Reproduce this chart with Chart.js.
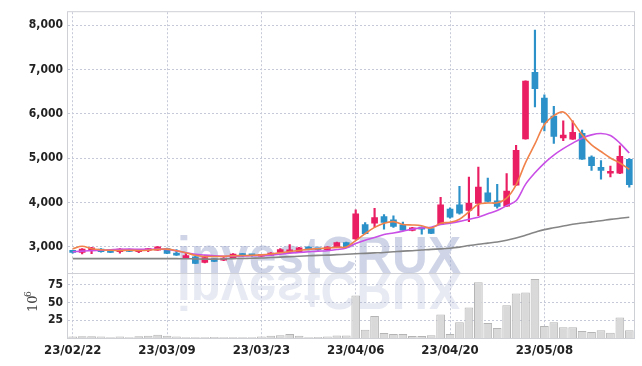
<!DOCTYPE html>
<html>
<head>
<meta charset="utf-8">
<script src="https://cdn.jsdelivr.net/npm/chart.js@4.4.0/dist/chart.umd.min.js"></script>
<style>
html, body { margin: 0; padding: 0; background: #fff; }
</style>
</head>
<body>
<canvas id="chart" width="642" height="366"></canvas>
<script>
// Trading days
const dates = ['23/02/22','23/02/23','23/02/24','23/02/27','23/02/28','23/03/02','23/03/03','23/03/06','23/03/07','23/03/08',
  '23/03/09','23/03/10','23/03/13','23/03/14','23/03/15','23/03/16','23/03/17','23/03/20','23/03/21','23/03/22',
  '23/03/23','23/03/24','23/03/27','23/03/28','23/03/29','23/03/30','23/03/31','23/04/03','23/04/04','23/04/05',
  '23/04/06','23/04/07','23/04/10','23/04/11','23/04/12','23/04/13','23/04/14','23/04/17','23/04/18','23/04/19',
  '23/04/20','23/04/21','23/04/24','23/04/25','23/04/26','23/04/27','23/04/28','23/05/02','23/05/03','23/05/04',
  '23/05/08','23/05/09','23/05/10','23/05/11','23/05/12','23/05/15','23/05/16','23/05/17','23/05/18','23/05/19'];

// OHLC
const opens  = [2905,2875,2920,2950,2930,2890,2940,2890,2920,2925,2965,2835,2760,2777,2650,2735,2700,2755,2815,2815,
  2790,2815,2875,2875,2890,2995,2950,2935,2995,3100,3180,3505,3535,3685,3610,3500,3370,3445,3415,3520,
  3855,3950,3820,3980,4220,4040,3920,4390,5435,6935,6355,5950,5455,5430,5560,5025,4795,4660,4660,4975];
const highs  = [2920,2960,2990,2960,2935,2960,2950,2940,2970,3010,2975,2940,2880,2790,2770,2740,2760,2850,2850,2830,
  2820,2870,2960,3050,2990,3000,2960,3005,3110,3110,3835,3550,3870,3730,3700,3560,3440,3450,3420,4115,
  3880,4365,4575,4800,4550,4410,4650,5290,6745,7885,6430,6170,5840,5840,5635,5050,4945,4820,5280,4990];
const lows   = [2860,2840,2850,2880,2870,2860,2890,2870,2890,2920,2845,2810,2750,2620,2640,2665,2690,2750,2780,2790,
  2785,2810,2870,2870,2885,2930,2925,2930,2990,2990,3170,3290,3445,3400,3440,3370,3360,3285,3300,3500,
  3650,3740,3570,3705,4010,3875,3910,4380,5430,6155,5615,5330,5395,5420,4970,4725,4525,4575,4650,4345];
const closes = [2875,2950,2980,2890,2875,2950,2900,2930,2930,3000,2852,2815,2780,2630,2760,2675,2750,2838,2805,2800,
  2810,2860,2940,2935,2980,2935,2935,2995,3100,3000,3745,3300,3660,3550,3460,3380,3430,3400,3305,3950,
  3670,3760,3990,4350,4025,3915,4260,5175,6735,6565,5805,5490,5520,5580,4980,4830,4725,4700,5040,4405];

// Moving averages
const maShort = [2960,3015,2960,2935,2925,2920,2925,2920,2925,2945,2950,2915,2870,2810,2785,2785,2790,2800,2805,2810,
  2820,2840,2870,2895,2920,2945,2960,2975,2990,3000,3140,3300,3440,3535,3570,3505,3495,3475,3425,3535,
  3555,3625,3790,3960,3990,3995,4100,4400,4900,5320,5760,5960,6040,5820,5525,5300,5150,5005,4890,4750];
const maMid   = [2890,2905,2915,2925,2935,2945,2950,2945,2945,2950,2945,2910,2870,2835,2815,2800,2790,2790,2795,2800,
  2805,2815,2835,2860,2875,2890,2905,2915,2940,2975,3075,3150,3210,3280,3315,3355,3400,3430,3445,3505,
  3535,3575,3625,3670,3745,3820,3930,4040,4410,4670,4890,5070,5215,5340,5450,5525,5555,5510,5340,5115];
const maLong  = [2735,2735,2735,2735,2735,2735,2735,2735,2735,2735,2735,2735,2733,2730,2725,2725,2730,2735,2740,2745,
  2750,2760,2770,2780,2790,2800,2810,2815,2825,2835,2845,2855,2865,2875,2890,2905,2915,2930,2945,2955,
  2970,2995,3030,3060,3085,3110,3150,3200,3265,3330,3390,3430,3470,3510,3540,3565,3590,3620,3645,3668];

// Volume, millions
const volumes = [2,2.5,2.5,2,1,2,1,2.5,3,4.5,3,2,1,1,1,1.5,1,1,1,1,
  2,3,4,5.5,3,1,1.5,2,3.5,3.6,60,11.5,31,7,5.5,5.5,2.7,2.7,4,33,
  5.5,22,43,78.6,21,14,46,62.5,64,83,17,22,15,15,9.7,8.3,11,7.4,29,11];

const priceTicks = [3000, 4000, 5000, 6000, 7000, 8000];
const volumeTicks = [25, 50, 75];

const UP = '#e91e63';
const DOWN = '#2b91c8';
const GRID = '#c6c9d8';
const FRAME = '#cfd0d6';
const NARROW = "'DejaVu Sans Condensed', 'Liberation Sans Narrow', sans-serif";

const candleColors = opens.map((o, i) => closes[i] >= o ? UP : DOWN);

// Watermark, frame and the 10^6 label
const decorations = {
    id: 'decorations',
    beforeDatasetsDraw(chart) {
        const ctx = chart.ctx;
        const base = chart.scales.y.bottom;
        ctx.save();
        ctx.font = 'bold 52px "Liberation Sans", Arial, sans-serif';
        const w = ctx.measureText('investCRUX').width;
        const sx = 284 / w;
        ctx.translate(177, base);
        ctx.scale(sx, 1);
        ctx.fillStyle = 'rgba(160,172,208,0.5)';
        ctx.fillText('investCRUX', 0, 0);
        ctx.scale(1, -1);
        ctx.fillStyle = 'rgba(160,172,208,0.25)';
        ctx.fillText('investCRUX', 0, 0);
        ctx.restore();
    },
    afterDraw(chart) {
        const ctx = chart.ctx;
        const a = chart.chartArea;
        ctx.save();
        ctx.strokeStyle = FRAME;
        ctx.lineWidth = 1;
        ctx.strokeRect(a.left - 0.5, a.top - 0.5, a.right - a.left + 1, a.bottom - a.top + 1);
        const sep = Math.round(chart.scales.y.bottom) + 0.5;
        ctx.beginPath();
        ctx.moveTo(a.left, sep);
        ctx.lineTo(a.right, sep);
        ctx.stroke();

        ctx.translate(32, 303);
        ctx.rotate(-Math.PI / 2);
        ctx.fillStyle = '#444';
        ctx.font = '13px "DejaVu Serif", "Liberation Serif", serif';
        ctx.textBaseline = 'alphabetic';
        ctx.fillText('10', -9, 5);
        ctx.font = '9px "DejaVu Serif", "Liberation Serif", serif';
        ctx.fillText('6', 6, -1);
        ctx.restore();
    }
};

const ctx = document.getElementById('chart').getContext('2d');
new Chart(ctx, {
    type: 'bar',
    data: {
        labels: dates,
        datasets: [
            {
                type: 'line', label: 'MA short', data: maShort, yAxisID: 'y',
                borderColor: '#f0824a', borderWidth: 1.6, pointRadius: 0, tension: 0.35, order: 0
            },
            {
                type: 'line', label: 'MA mid', data: maMid, yAxisID: 'y',
                borderColor: '#c94fe6', borderWidth: 1.6, pointRadius: 0, tension: 0.35, order: 1
            },
            {
                type: 'line', label: 'MA long', data: maLong, yAxisID: 'y',
                borderColor: '#858585', borderWidth: 1.6, pointRadius: 0, tension: 0.35, order: 2
            },
            {
                label: 'Body', data: opens.map((o, i) => [o, closes[i]]), yAxisID: 'y',
                backgroundColor: candleColors, barThickness: 6, minBarLength: 2,
                grouped: false, order: 3
            },
            {
                label: 'Wick', data: lows.map((l, i) => [l, highs[i]]), yAxisID: 'y',
                backgroundColor: candleColors, barThickness: 1.5,
                grouped: false, order: 4
            },
            {
                label: 'Volume', data: volumes, yAxisID: 'yv',
                backgroundColor: '#d9d9d9', borderColor: '#b5b5b5', borderWidth: 1,
                barPercentage: 0.92, categoryPercentage: 1,
                grouped: false, order: 5
            }
        ]
    },
    options: {
        responsive: false,
        animation: false,
        layout: { padding: { top: 9, right: 8, left: 0, bottom: 0 } },
        plugins: {
            legend: { display: false },
            tooltip: { enabled: false }
        },
        scales: {
            x: {
                type: 'category',
                offset: true,
                grid: { offset: false, color: GRID, drawTicks: false },
                border: { display: false, dash: [2, 2] },
                ticks: {
                    autoSkip: false, maxRotation: 0, padding: 5,
                    color: '#222', font: { family: NARROW, size: 13, weight: 'bold' },
                    callback: (v, i) => i % 10 === 0 ? dates[i] : null
                },
                afterFit: axis => { axis.height = 28; }
            },
            // volume first so it sits at the bottom of the stack
            yv: {
                type: 'linear', position: 'left', stack: 'main', stackWeight: 66,
                min: 0, max: 92,
                grid: { color: GRID, drawTicks: false },
                border: { display: false, dash: [2, 2] },
                ticks: {
                    padding: 5, color: '#222', font: { family: NARROW, size: 12, weight: 'bold' }
                },
                afterBuildTicks: axis => { axis.ticks = volumeTicks.map(v => ({ value: v })); },
                afterFit: axis => { axis.width = 68; }
            },
            y: {
                type: 'linear', position: 'left', stack: 'main', stackWeight: 263,
                min: 2420, max: 8290,
                grid: { color: GRID, drawTicks: false },
                border: { display: false, dash: [2, 2] },
                ticks: {
                    padding: 5, color: '#222', font: { family: NARROW, size: 12, weight: 'bold' },
                    callback: v => v.toLocaleString('en-US')
                },
                afterBuildTicks: axis => { axis.ticks = priceTicks.map(v => ({ value: v })); },
                afterFit: axis => { axis.width = 68; }
            }
        }
    },
    plugins: [decorations]
});
</script>
</body>
</html>
